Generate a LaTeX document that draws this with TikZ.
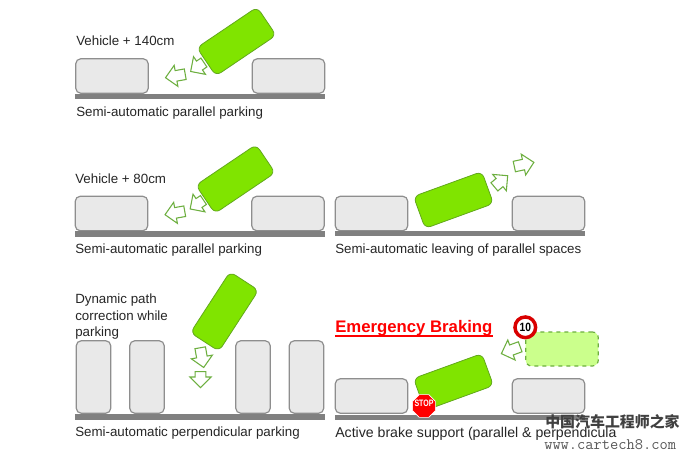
\documentclass[tikz,border=0pt]{standalone}
\usepackage{fontspec}
\setmainfont{Liberation Sans}
\newfontfamily\cjkfont{Noto Sans CJK SC}
\usepackage{xcolor}
\usepackage{graphicx}
\usepackage{tikz}
\usetikzlibrary{positioning, shapes.geometric, shapes.arrows}
\definecolor{carfill}{HTML}{80E400}
\definecolor{carline}{HTML}{62A81C}
\definecolor{ghostfill}{HTML}{CBFF8C}
\definecolor{parkfill}{HTML}{E9E9E9}
\definecolor{parkline}{HTML}{8E8E8E}
\definecolor{barfill}{HTML}{808080}
\definecolor{arrowline}{HTML}{6DAF3F}
\tikzset{
	x=0.75pt,
	y=-0.75pt,
	parked/.style={draw=parkline, fill=parkfill, line width=0.9pt, rounded corners=4pt, inner sep=0pt, minimum width=54.5pt, minimum height=26pt},
	parkedtall/.style={parked, minimum width=26pt, minimum height=54.5pt},
	car/.style={draw=carline, fill=carfill, line width=0.6pt, rounded corners=4.5pt, inner sep=0pt, minimum width=54.5pt, minimum height=25.5pt},
	ghostcar/.style={car, fill=ghostfill, draw=arrowline, dashed, line width=0.9pt, minimum width=54.5pt, minimum height=25.5pt},
	ground/.style={fill=barfill, inner sep=0pt, minimum width=187.5pt, minimum height=3.8pt},
	blockarrow/.style={single arrow, draw=arrowline, fill=white, line width=0.8pt, inner sep=3.6pt, minimum height=#1, single arrow head extend=4pt, single arrow tip angle=90},
	caption/.style={anchor=west, inner sep=0pt, font=\fontsize{10pt}{12.4pt}\selectfont, text=black!85, align=left}
}

\begin{document}
\begin{tikzpicture}
	\path[use as bounding box, fill=white] (0,0) rectangle (690,460);

	\node[caption] (note1) at (76,41) {Vehicle + 140cm};
	\node[parked] (park1a) at (112,76) {};
	\node[parked] (park1b) at (288.5,76) {};
	\node[ground] (bar1) at (200,96.5) {};
	\node[car, rotate=34] (car1) at (236.5,41.5) {};
	\node[blockarrow=15pt, rotate=190] (arrow1a) at (178,75.5) {};
	\node[blockarrow=10pt, rotate=214] (arrow1b) at (199.5,65.5) {};
	\node[caption] (label1) at (76,113) {Semi-automatic parallel parking};

	\node[caption] (note2) at (75,178.5) {Vehicle + 80cm};
	\node[parked] (park2a) at (111.5,213.5) {};
	\node[parked] (park2b) at (288,213.5) {};
	\node[ground] (bar2) at (200,234) {};
	\node[car, rotate=34] (car2) at (235.5,179) {};
	\node[blockarrow=15pt, rotate=190] (arrow2a) at (177.5,212.5) {};
	\node[blockarrow=10pt, rotate=214] (arrow2b) at (199,203) {};
	\node[caption] (label2) at (75,250) {Semi-automatic parallel parking};

	\node[parked] (park3a) at (371.5,213.5) {};
	\node[parked] (park3b) at (548.5,213.5) {};
	\node[ground] (bar3) at (460,233.5) {};
	\node[car, rotate=20] (car3) at (453.5,200) {};
	\node[blockarrow=13pt, rotate=40] (arrow3a) at (499,183) {};
	\node[blockarrow=15pt, rotate=12] (arrow3b) at (521.5,165) {};
	\node[caption] (label3) at (335,250) {Semi-automatic leaving of parallel spaces};

	\node[caption] (note4) at (75,317) {Dynamic path\\correction while\\parking};
	\node[parkedtall] (park4a) at (93.5,377) {};
	\node[parkedtall] (park4b) at (147,377) {};
	\node[parkedtall] (park4c) at (253,377) {};
	\node[parkedtall] (park4d) at (306.5,377) {};
	\node[ground] (bar4) at (200,417) {};
	\node[car, rotate=57] (car4) at (224.5,311.5) {};
	\node[blockarrow=15pt, rotate=280] (arrow4a) at (201.5,355) {};
	\node[blockarrow=9.5pt, rotate=270] (arrow4b) at (200.5,377) {};
	\node[caption] (label4) at (75,433) {Semi-automatic perpendicular parking};

	\node[anchor=west, inner sep=0pt, font=\fontsize{12.55pt}{14pt}\selectfont\bfseries, text=red] (title5) at (335,328) {Emergency Braking};
	\draw[red, line width=1.5pt] (title5.south west) -- (title5.south east);
	\node[parked] (park5a) at (371.5,396) {};
	\node[parked] (park5b) at (548.5,396) {};
	\node[ground] (bar5) at (460,417.5) {};
	\node[car, rotate=20] (car5) at (453.5,382) {};
	\node[ghostcar] (ghost5) at (562,349) {};
	\node[blockarrow=15pt, rotate=200] (arrow5) at (513.3,349.3) {};
	\node[regular polygon, regular polygon sides=8, draw=white, fill=red, line width=0.5pt, inner sep=0pt, minimum size=18.5pt, text=white, font=\fontsize{7pt}{8pt}\selectfont\bfseries] (stop5) at (424,406) {\makebox[0pt]{\smash{\scalebox{0.75}[1]{STOP}}}};
	\node[circle, draw=red!85!black, fill=white, line width=2.6pt, inner sep=0pt, minimum size=15.5pt, font=\fontsize{9pt}{9pt}\selectfont\bfseries] (limit5) at (525.3,327.3) {\scalebox{0.85}[1]{10}};
	\node[caption, font=\fontsize{10.6pt}{12.4pt}\selectfont] (label5) at (335,434) {Active brake support (parallel \& perpendicula};

	\node[anchor=west, inner sep=0pt, text=black!75, font=\fontsize{11.2pt}{12pt}\cjkfont\bfseries] (mark1) at (545,422) {中国汽车工程师之家};
	\node[anchor=west, inner sep=0pt, text=black!65, font=\fontsize{12pt}{13pt}\ttfamily] (mark2) at (544,445) {www.cartech8.com};
\end{tikzpicture}
\end{document}
